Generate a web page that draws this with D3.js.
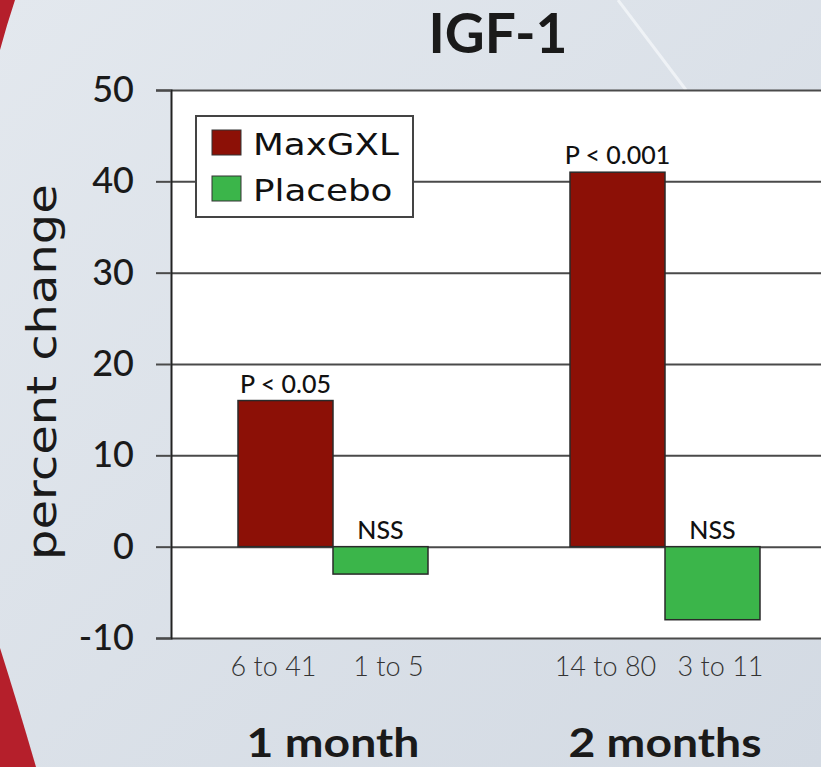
<!DOCTYPE html>
<html>
<head>
<meta charset="utf-8">
<script src="https://cdn.jsdelivr.net/npm/d3@7"></script>
<style>
  html, body { margin: 0; padding: 0; background: #dbe2ea; }
  svg { display: block; }
  text { font-family: Lato, "Open Sans", sans-serif; }
</style>
</head>
<body>
<svg width="821" height="767"></svg>
<script>
const groups = ['1 month', '2 months'];
const series = ['MaxGXL', 'Placebo'];
const maxgxl = [16, 41];
const placebo = [-3, -8];
const maxgxlP = ['P < 0.05', 'P < 0.001'];
const placeboP = ['NSS', 'NSS'];
const maxgxlRange = ['6 to 41', '14 to 80'];
const placeboRange = ['1 to 5', '3 to 11'];
const yTicks = [-10, 0, 10, 20, 30, 40, 50];

const colors = { MaxGXL: '#8c1006', Placebo: '#3bb54a' };

const svg = d3.select('svg');
const W = 821, H = 767;

// the original uses a wide geometric face, so widen the text a bit
const stretch = (sel, k) => sel.each(function () {
  const len = this.getComputedTextLength();
  d3.select(this).attr('textLength', len * k).attr('lengthAdjust', 'spacingAndGlyphs');
});

// background
const defs = svg.append('defs');
const grad = defs.append('linearGradient')
  .attr('id', 'bg').attr('x1', 0).attr('y1', 0).attr('x2', 1).attr('y2', 1);
grad.append('stop').attr('offset', '0%').attr('stop-color', '#e3e8ee');
grad.append('stop').attr('offset', '100%').attr('stop-color', '#d3dae3');
svg.append('rect').attr('width', W).attr('height', H).attr('fill', 'url(#bg)');

// light streak at the top
svg.append('path')
  .attr('d', 'M618,0 L686,90')
  .attr('stroke', '#f4f7fa').attr('stroke-width', 3).attr('opacity', 0.8);

// red decoration on the left edge
svg.append('path')
  .attr('d', 'M0,0 L15,0 Q7,24 0,50 Z')
  .attr('fill', '#b51f2b');
svg.append('path')
  .attr('d', 'M0,648 Q18,705 36,767 L0,767 Z')
  .attr('fill', '#b51f2b');

const plot = { left: 171, top: 90, right: 830, bottom: 638 };

const y = d3.scaleLinear()
  .domain([-10, 50])
  .range([plot.bottom, plot.top]);

const x0 = d3.scaleBand()
  .domain(groups)
  .range([167, 831])
  .padding(0);

const barW = 95;
const x1 = d3.scaleBand()
  .domain(series)
  .range([x0.bandwidth() / 2 - barW, x0.bandwidth() / 2 + barW])
  .padding(0);

// plot area
svg.append('rect')
  .attr('x', plot.left)
  .attr('y', plot.top)
  .attr('width', plot.right - plot.left)
  .attr('height', plot.bottom - plot.top)
  .attr('fill', '#fff');

// gridlines
svg.append('g')
  .attr('transform', `translate(${plot.left},0)`)
  .call(d3.axisLeft(y).tickValues(yTicks).tickSize(-(plot.right - plot.left)).tickFormat(''))
  .call(g => g.select('.domain').remove())
  .call(g => g.selectAll('line').attr('stroke', '#4a4a4a').attr('stroke-width', 2));

// y axis
svg.append('g')
  .attr('transform', `translate(${plot.left},0)`)
  .call(d3.axisLeft(y).tickValues(yTicks).tickSize(15).tickPadding(22))
  .call(g => g.select('.domain').attr('stroke', '#222').attr('stroke-width', 2))
  .call(g => g.selectAll('line').attr('stroke', '#4a4a4a').attr('stroke-width', 2))
  .call(g => g.selectAll('text')
    .attr('font-size', 36)
    .style('font-family', 'Lato, sans-serif')
    .attr('font-weight', 500)
    .attr('fill', '#1a1a1a')
    .text(d => d));

// legend
const legend = svg.append('g').attr('transform', 'translate(196,116)');
legend.append('rect')
  .attr('width', 217).attr('height', 101)
  .attr('fill', '#fff').attr('stroke', '#444').attr('stroke-width', 2);
legend.selectAll('g.item')
  .data(series)
  .join('g')
  .attr('class', 'item')
  .attr('transform', (d, i) => `translate(16,${14 + i * 46})`)
  .call(g => g.append('rect')
    .attr('width', 29).attr('height', 25)
    .attr('fill', d => colors[d])
    .attr('stroke', '#333').attr('stroke-width', 1))
  .call(g => g.append('text')
    .attr('x', 41).attr('y', 25)
    .style('font-family', '"DejaVu Sans", sans-serif')
    .attr('font-size', 30)
    .attr('fill', '#111')
    .text(d => d)
    .call(stretch, 1.19));

// bars
const rows = groups.map((g, i) => [
  { group: g, key: 'MaxGXL', value: maxgxl[i], p: maxgxlP[i], range: maxgxlRange[i] },
  { group: g, key: 'Placebo', value: placebo[i], p: placeboP[i], range: placeboRange[i] }
]).flat();

svg.append('g')
  .selectAll('rect')
  .data(rows)
  .join('rect')
  .attr('x', d => x0(d.group) + x1(d.key))
  .attr('y', d => y(Math.max(0, d.value)))
  .attr('width', x1.bandwidth())
  .attr('height', d => Math.abs(y(d.value) - y(0)))
  .attr('fill', d => colors[d.key])
  .attr('stroke', '#2a2a2a')
  .attr('stroke-width', 1.5);

// significance labels
svg.append('g')
  .selectAll('text')
  .data(rows)
  .join('text')
  .attr('x', d => x0(d.group) + x1(d.key) + x1.bandwidth() / 2)
  .attr('y', d => y(Math.max(0, d.value)) - 8)
  .attr('text-anchor', 'middle')
  .attr('font-size', 25)
  .attr('font-weight', 500)
  .attr('fill', '#111')
  .text(d => d.p);

// range labels under the bars
svg.append('g')
  .selectAll('text')
  .data(rows)
  .join('text')
  .attr('x', d => x0(d.group) + x1(d.key) + x1.bandwidth() / 2 + (d.key === 'MaxGXL' ? -12 : 8))
  .attr('y', 676)
  .attr('text-anchor', 'middle')
  .attr('font-size', 27)
  .attr('font-weight', 300)
  .attr('fill', '#333')
  .text(d => d.range);

// group labels
svg.append('g')
  .selectAll('text')
  .data(groups)
  .join('text')
  .attr('x', d => x0(d) + x0.bandwidth() / 2)
  .attr('y', 757)
  .attr('text-anchor', 'middle')
  .attr('font-size', 41)
  .attr('font-weight', 700)
  .attr('fill', '#1a1a1a')
  .text(d => d)
  .call(stretch, 1.13);

// title
svg.append('text')
  .attr('x', 498)
  .attr('y', 53)
  .attr('text-anchor', 'middle')
  .attr('font-size', 55)
  .attr('font-weight', 700)
  .attr('fill', '#1a1a1a')
  .text('IGF-1');

// y axis title
svg.append('text')
  .attr('transform', 'translate(56,372) rotate(-90)')
  .attr('text-anchor', 'middle')
  .style('font-family', '"DejaVu Sans", sans-serif')
  .attr('font-size', 40)
  .attr('fill', '#1a1a1a')
  .text('percent change')
  .call(stretch, 1.2);
</script>
</body>
</html>
